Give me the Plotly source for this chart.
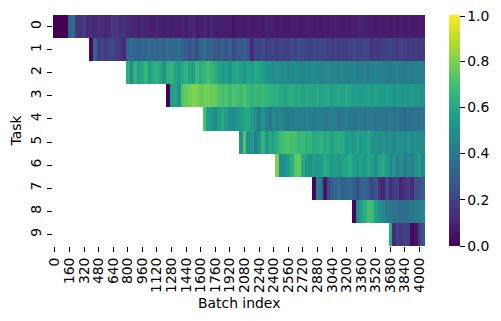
import plotly.graph_objects as go

batch_step = 40
n_cols = 102
tasks = list(range(10))
tick_labels = list(range(0, 4001, 160))

task0 = [0.0,0.0,0.0,0.0,0.30,0.36,0.16,0.14,0.18,0.12,
 0.13,0.11,0.14,0.12,0.10,0.11,0.16,0.15,0.13,0.14,
 0.11,0.10,0.10,0.09,0.11,0.10,0.09,0.08,0.10,0.09,
 0.08,0.09,0.08,0.09,0.08,0.09,0.08,0.10,0.11,0.08,
 0.08,0.10,0.09,0.11,0.08,0.08,0.08,0.08,0.08,0.05,
 0.07,0.08,0.07,0.08,0.07,0.07,0.08,0.07,0.09,0.08,
 0.08,0.07,0.08,0.07,0.07,0.08,0.08,0.07,0.07,0.08,
 0.08,0.07,0.08,0.07,0.08,0.07,0.08,0.09,0.08,0.07,
 0.08,0.07,0.08,0.09,0.10,0.09,0.08,0.08,0.07,0.08,
 0.07,0.07,0.06,0.08,0.07,0.08,0.07,0.08,0.07,0.07,
 0.08,0.07]
task1 = [0.02,0.32,0.18,0.20,0.17,0.20,0.22,0.18,0.15,0.12,
 0.32,0.36,0.33,0.30,0.34,0.32,0.36,0.33,0.31,0.35,
 0.30,0.36,0.32,0.34,0.36,0.31,0.28,0.26,0.30,0.24,
 0.33,0.36,0.30,0.32,0.28,0.27,0.31,0.26,0.30,0.22,
 0.27,0.28,0.30,0.25,0.12,0.22,0.20,0.23,0.18,0.20,
 0.22,0.17,0.21,0.20,0.19,0.23,0.20,0.24,0.22,0.21,
 0.19,0.22,0.20,0.22,0.21,0.19,0.18,0.21,0.19,0.20,
 0.17,0.20,0.22,0.19,0.20,0.22,0.21,0.16,0.18,0.17,
 0.19,0.20,0.22,0.19,0.17,0.20,0.18,0.16,0.18,0.19,
 0.17,0.18]
task2 = [0.62,0.46,0.64,0.58,0.60,0.66,0.56,0.60,0.64,0.58,
 0.52,0.62,0.66,0.58,0.56,0.60,0.64,0.58,0.55,0.68,
 0.62,0.66,0.70,0.66,0.62,0.58,0.53,0.56,0.52,0.58,
 0.60,0.56,0.52,0.58,0.56,0.60,0.58,0.56,0.52,0.50,
 0.48,0.50,0.47,0.49,0.46,0.48,0.50,0.47,0.45,0.48,
 0.46,0.49,0.47,0.44,0.46,0.48,0.45,0.47,0.44,0.46,
 0.45,0.44,0.46,0.42,0.43,0.45,0.42,0.44,0.46,0.43,
 0.44,0.42,0.41,0.43,0.45,0.42,0.41,0.43,0.42,0.43,
 0.44,0.42]
task3 = [0.0,0.55,0.58,0.50,0.72,0.76,0.78,0.81,0.79,0.76,
 0.79,0.78,0.76,0.77,0.72,0.70,0.72,0.68,0.72,0.70,
 0.68,0.72,0.68,0.64,0.68,0.66,0.68,0.66,0.64,0.62,
 0.62,0.60,0.58,0.60,0.62,0.59,0.60,0.58,0.61,0.59,
 0.58,0.60,0.57,0.59,0.60,0.56,0.58,0.59,0.57,0.60,
 0.58,0.55,0.56,0.53,0.56,0.58,0.54,0.57,0.55,0.53,
 0.56,0.54,0.52,0.54,0.53,0.54,0.52,0.54,0.52,0.53,
 0.50]
task4 = [0.72,0.56,0.54,0.48,0.56,0.60,0.54,0.50,0.47,0.52,
 0.55,0.58,0.60,0.55,0.50,0.42,0.52,0.46,0.40,0.48,
 0.44,0.46,0.43,0.40,0.42,0.45,0.43,0.41,0.44,0.42,
 0.40,0.42,0.44,0.40,0.41,0.44,0.42,0.39,0.41,0.43,
 0.40,0.38,0.40,0.42,0.38,0.40,0.41,0.38,0.39,0.41,
 0.38,0.40,0.37,0.40,0.36,0.34,0.38,0.37,0.39,0.36,
 0.38]
task5 = [0.50,0.72,0.50,0.54,0.42,0.52,0.66,0.52,0.60,0.56,
 0.62,0.68,0.70,0.72,0.70,0.70,0.66,0.68,0.64,0.66,
 0.60,0.62,0.64,0.60,0.62,0.57,0.60,0.62,0.60,0.54,
 0.56,0.52,0.58,0.54,0.56,0.60,0.52,0.50,0.48,0.52,
 0.48,0.50,0.46,0.52,0.50,0.48,0.52,0.47,0.50,0.49,
 0.47]
task6 = [0.80,0.48,0.50,0.55,0.62,0.74,0.76,0.60,0.54,0.50,
 0.56,0.52,0.54,0.60,0.58,0.53,0.56,0.52,0.57,0.58,
 0.62,0.56,0.52,0.57,0.54,0.60,0.56,0.50,0.58,0.60,
 0.56,0.48,0.52,0.44,0.50,0.42,0.46,0.44,0.50,0.56,
 0.46]
task7 = [0.02,0.45,0.40,0.06,0.22,0.30,0.34,0.36,0.30,0.33,
 0.35,0.30,0.24,0.30,0.33,0.28,0.22,0.26,0.14,0.10,
 0.22,0.12,0.18,0.20,0.10,0.14,0.18,0.12,0.24,0.26,
 0.28]
task8 = [0.02,0.48,0.55,0.62,0.70,0.68,0.56,0.50,0.46,0.42,
 0.40,0.38,0.36,0.34,0.36,0.38,0.40,0.42,0.44,0.46]
task9 = [0.62,0.12,0.22,0.16,0.20,0.18,0.02,0.05,0.18,0.26]

rows = [task0, task1, task2, task3, task4, task5, task6, task7, task8, task9]
z = [[None] * (n_cols - len(r)) + r for r in rows]
x = [i * batch_step for i in range(n_cols)]
font = "DejaVu Sans"

fig = go.Figure(go.Heatmap(
    z=z, x=x, y=tasks, zmin=0, zmax=1, colorscale="Viridis", hoverongaps=False,
    colorbar=dict(
        thickness=11, thicknessmode="pixels", len=1, lenmode="fraction", y=0.5, yanchor="middle",
        x=1.0645, xanchor="left", xpad=0, ypad=0, outlinewidth=0,
        tickvals=[0, 0.2, 0.4, 0.6, 0.8, 0.995],
        ticktext=["0.0", "0.2", "0.4", "0.6", "0.8", "1.0"], ticks="outside", ticklen=5, tickwidth=1,
        tickcolor="black", tickfont=dict(family=font, size=13.9, color="black"),
    ),
))
fig.update_xaxes(
    range=[-batch_step / 2, (n_cols - 0.5) * batch_step], tickmode="array", tickvals=tick_labels,
    ticktext=[str(t) for t in tick_labels], tickangle=-90, ticks="outside", ticklen=5, tickwidth=1,
    tickcolor="black", showgrid=False, zeroline=False, showline=False,
    tickfont=dict(family=font, size=13.9, color="black"),
)
fig.update_yaxes(
    range=[9.5, -0.5], tickmode="array", tickvals=tasks, ticktext=[str(t) for t in tasks], tickangle=-90,
    ticks="outside", ticklen=5, tickwidth=1, tickcolor="black", showgrid=False, zeroline=False,
    showline=False, tickfont=dict(family=font, size=13.9, color="black"),
    title=dict(text="Task", font=dict(family=font, size=13.9, color="black"), standoff=3),
)
fig.update_layout(
    width=493, height=313, margin=dict(l=45, r=76, t=7, b=75, autoexpand=False),
    paper_bgcolor="white", plot_bgcolor="white",
    annotations=[dict(text="Batch index", xref="paper", yref="paper", x=0.5, y=-0.245, showarrow=False,
                      xanchor="center", yanchor="middle", font=dict(family=font, size=13.9, color="black"))],
)
fig.write_html("out.html", config={"displayModeBar": False})
